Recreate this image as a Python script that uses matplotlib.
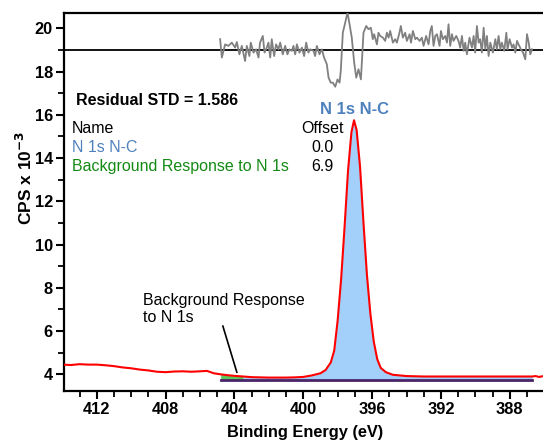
import matplotlib
matplotlib.use("Agg")
import matplotlib.pyplot as plt
import numpy as np

plt.rcParams['font.family'] = ['Liberation Sans', 'DejaVu Sans']

# ---- data -------------------------------------------------------------
env_be = [414.0, 413.5, 413.0, 412.5, 412.0, 411.5, 411.0, 410.5, 410.0, 409.5,
          409.0, 408.5, 408.0, 407.5, 407.0, 406.5, 406.0, 405.6, 405.2, 404.8,
          404.4, 404.0, 403.5, 403.0, 402.0, 401.0, 400.5, 400.0, 399.5, 399.0,
          398.7, 398.4, 398.2, 398.0, 397.8, 397.6, 397.4, 397.2, 397.05, 396.9,
          396.7, 396.5, 396.3, 396.1, 395.9, 395.7, 395.5, 395.2, 394.8, 394.0,
          393.0, 392.0, 391.0, 390.0, 389.0, 388.0, 387.0, 386.7, 386.5, 386.3, 386.1]
env_cps = [4.45, 4.43, 4.47, 4.45, 4.45, 4.42, 4.38, 4.32, 4.28, 4.22,
           4.18, 4.12, 4.10, 4.13, 4.14, 4.12, 4.14, 4.16, 4.05, 4.00,
           3.96, 3.93, 3.90, 3.87, 3.85, 3.85, 3.86, 3.88, 3.95, 4.05,
           4.20, 4.55, 5.10, 6.50, 8.40, 10.80, 13.40, 15.20, 15.75, 15.30,
           13.60, 11.00, 8.60, 6.80, 5.50, 4.70, 4.30, 4.10, 3.98, 3.92,
           3.90, 3.90, 3.90, 3.90, 3.90, 3.90, 3.90, 3.90, 3.92, 3.88, 3.91]

bg_be = [404.8, 386.7]
bg_cps = [3.76, 3.76]
bgresp_end = 403.5

res_be = [404.83, 404.73, 404.54, 404.35, 404.15, 403.96, 403.86, 403.71, 403.57, 403.38,
          403.28, 403.13, 403.05, 402.89, 402.74, 402.60, 402.51, 402.35, 402.25, 402.12,
          402.02, 401.92, 401.83, 401.69, 401.58, 401.44, 401.34, 401.19, 401.05, 400.92,
          400.80, 400.66, 400.57, 400.47, 400.37, 400.22, 400.08, 399.95, 399.83, 399.70,
          399.60, 399.40, 399.31, 399.21, 399.06, 398.92, 398.79, 398.63, 398.53, 398.40,
          398.28, 398.14, 398.01, 397.89, 397.82, 397.70, 397.56, 397.43, 397.31, 397.18,
          397.04, 396.92, 396.79, 396.65, 396.50, 396.34, 396.21, 396.07, 395.96, 395.88,
          395.72, 395.63, 395.53, 395.37, 395.24, 395.14, 395.04, 394.95, 394.79, 394.66,
          394.56, 394.41, 394.33, 394.21, 394.08, 393.98, 393.82, 393.74, 393.63, 393.49,
          393.39, 393.24, 393.11, 393.01, 392.86, 392.72, 392.62, 392.53, 392.43, 392.33,
          392.23, 392.08, 392.00, 391.89, 391.75, 391.65, 391.56, 391.46, 391.36, 391.27,
          391.11, 390.98, 390.88, 390.78, 390.68, 390.59, 390.49, 390.34, 390.20, 390.10,
          390.01, 389.91, 389.81, 389.72, 389.62, 389.52, 389.42, 389.33, 389.23, 389.13,
          388.98, 388.84, 388.75, 388.65, 388.55, 388.46, 388.32, 388.20, 388.13, 388.01,
          387.87, 387.78, 387.68, 387.58, 387.49, 387.35, 387.23, 387.10, 387.00, 386.90,
          386.81, 386.71]
res_val = [0.50, -0.35, 0.26, 0.19, 0.34, 0.11, 0.37, -0.20, 0.19, -0.51,
           0.19, -0.28, 0.34, -0.12, 0.03, -0.35, 0.34, 0.65, -0.12, 0.11,
           0.34, -0.35, 0.50, -0.28, 0.26, 0.03, 0.34, -0.20, 0.19, -0.20,
           0.03, -0.04, 0.19, -0.20, 0.26, -0.12, 0.11, -0.28, 0.34, -0.12,
           0.03, -0.04, -0.28, 0.19, -0.20, 0.03, -0.35, -0.66, -1.28, -1.51,
           -1.51, -1.70, -1.36, -1.51, -0.97, 0.80, 1.27, 1.73, 1.19, 0.57,
           -0.59, -1.28, -0.89, -1.36, 0.80, 1.11, 0.96, 1.03, 0.50, 0.73,
           0.26, 0.80, 0.65, 0.57, 0.42, 0.80, 0.57, 0.88, 0.34, 0.50,
           0.34, 0.80, 1.11, 0.57, 0.80, 0.42, 0.73, 0.34, 0.88, 0.50,
           0.57, 0.42, 0.57, 0.19, 0.65, 0.26, 0.88, 1.11, 0.19, 0.65,
           0.73, 0.19, 0.88, 0.50, 0.65, 0.34, 1.19, 0.19, 0.73, 0.42,
           0.65, 0.42, 0.11, 0.65, -0.04, 0.34, -0.20, 0.57, 0.11, 0.65,
           -0.12, 1.11, 0.34, 0.50, -0.12, 1.03, 0.03, 0.65, -0.28, 0.34,
           -0.12, 0.50, 0.03, 0.65, 0.03, 0.34, -0.04, 0.80, 0.03, 0.50,
           0.11, 0.26, -0.12, 0.42, 0.26, 0.03, -0.12, -0.43, 0.73, 0.34,
           -0.20, 0.03]
res_base = 19.0

names = ["N 1s N-C", "Background Response to N 1s"]
offsets = ["0.0", "6.9"]
name_colors = ["#4f81bd", "#138a13"]
std_text = "Residual STD = 1.586"

xticks = [412, 408, 404, 400, 396, 392, 388]
yticks = [4, 6, 8, 10, 12, 14, 16, 18, 20]

# ---- figure -----------------------------------------------------------
fig = plt.figure(figsize=(5.43, 4.44), dpi=100)
ax = fig.add_axes([0.1179, 0.1194, 0.8821, 0.8513])

env_be_a = np.array(env_be)
env_cps_a = np.array(env_cps)
bg_level = bg_cps[0]

# component fills
m_blue = (env_be_a <= bgresp_end + 1e-9) & (env_be_a >= bg_be[1])
ax.fill_between(env_be_a[m_blue], bg_level, env_cps_a[m_blue],
                color="#a3d0fb", lw=0, zorder=1)
m_green = (env_be_a <= bg_be[0] + 1e-9) & (env_be_a >= bgresp_end)
ax.fill_between(env_be_a[m_green], bg_level, env_cps_a[m_green],
                color="#5cc85c", lw=0, zorder=1)

# background line
ax.plot(bg_be, bg_cps, color="#4a2468", lw=2.0, zorder=2)
# envelope / data
ax.plot(env_be, env_cps, color="red", lw=1.5, zorder=3)

# residual
ax.axhline(res_base, color="black", lw=1.3, zorder=2)
ax.plot(res_be, res_base + np.array(res_val), color="#808080", lw=1.3, zorder=3)

ax.set_xlim(413.9, 386.07)
ax.set_ylim(3.23, 20.71)

ax.spines['right'].set_visible(False)
for s in ['left', 'bottom', 'top']:
    ax.spines[s].set_linewidth(1.6)

ax.set_xticks(xticks)
ax.set_xticks(np.arange(387, 414, 1), minor=True)
ax.set_yticks(yticks)
ax.set_yticks(np.arange(4, 21, 1), minor=True)
ax.tick_params(which='major', length=6, width=1.5, direction='out', labelsize=11.8, pad=2)
ax.tick_params(which='minor', length=4, width=1.3, direction='out')
for lab in ax.get_xticklabels() + ax.get_yticklabels():
    lab.set_fontweight('bold')

FS = 11.5
# texts
ax.text(413.2, 16.68, std_text, fontsize=FS, fontweight='bold', va='center', ha='left')
ax.text(413.43, 15.38, "Name", fontsize=FS, va='center', ha='left')
ax.text(398.9, 15.38, "Offset", fontsize=FS, va='center', ha='center')
for i, (nm, off, c) in enumerate(zip(names, offsets, name_colors)):
    yy = 14.5 - 0.88 * i
    ax.text(413.43, yy, nm, fontsize=FS, va='center', ha='left', color=c)
    ax.text(398.9, yy, off, fontsize=FS, va='center', ha='center')

ax.text(397.04, 16.26, names[0], fontsize=12, fontweight='bold', color=name_colors[0],
        ha='center', va='center')

ax.text(409.3, 7.03, "Background Response\nto N 1s", fontsize=FS, ha='left', va='center',
        linespacing=1.2)
ax.plot([404.67, 403.86], [6.23, 4.1], color='black', lw=1.2, zorder=4)

fig.text(304.7 / 543, 1 - 432 / 444, "Binding Energy (eV)", fontsize=11.8, fontweight='bold',
         ha='center', va='center')
fig.text(25 / 543, 1 - 178 / 444, r"CPS x 10$^{\mathbf{-3}}$", fontsize=12.5, fontweight='bold',
         rotation=90, ha='center', va='center')

fig.savefig("out.png", dpi=100)
